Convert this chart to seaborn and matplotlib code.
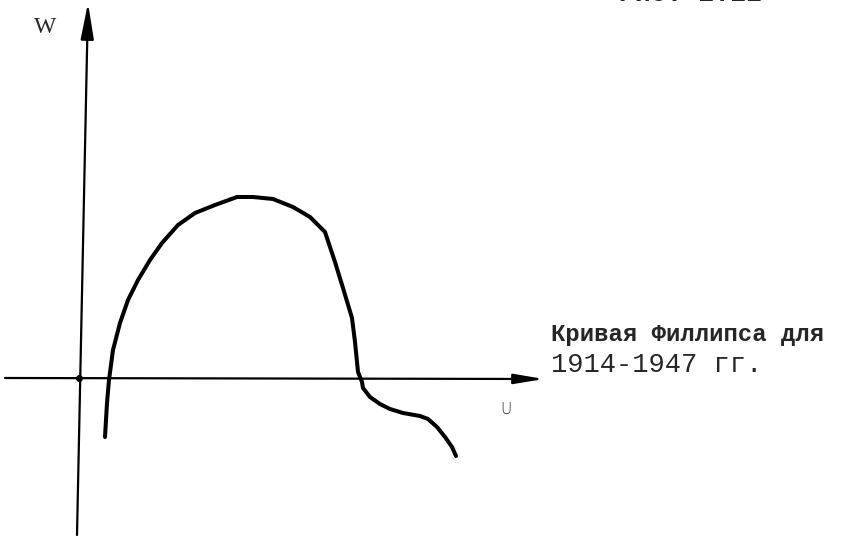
import matplotlib
matplotlib.use('Agg')
import matplotlib.pyplot as plt
import seaborn as sns
import pandas as pd

# кривая Филлипса (схема), координаты относительно начала осей
u_vals = [0.26, 0.28, 0.30, 0.34, 0.41, 0.49, 0.59, 0.71, 0.83, 0.99, 1.16, 1.36,
          1.58, 1.74, 1.94, 2.14, 2.31, 2.46, 2.56, 2.64, 2.73, 2.76, 2.79, 2.83,
          2.84, 2.91, 3.01, 3.11, 3.24, 3.41, 3.49, 3.58, 3.66, 3.73, 3.77]
w_vals = [-0.59, -0.25, -0.02, 0.28, 0.55, 0.78, 0.98, 1.18, 1.35, 1.53, 1.65, 1.73,
          1.81, 1.81, 1.79, 1.71, 1.61, 1.46, 1.16, 0.90, 0.60, 0.36, 0.06, -0.04,
          -0.10, -0.19, -0.26, -0.31, -0.35, -0.38, -0.41, -0.49, -0.59, -0.69, -0.78]

title_cut = 'Рис. 2.11'
label_w = 'W'
label_u = 'U'
caption = ['Кривая Филлипса для', '1914-1947 гг.']

df = pd.DataFrame({'u': u_vals, 'w': w_vals})

sns.set_theme(style='white')
fig = plt.figure(figsize=(8.5, 5.39), dpi=100)
ax = fig.add_axes([0, 0, 1, 1])
ax.set_xlim(-0.79, 7.71)
ax.set_ylim(-1.61, 3.78)
ax.axis('off')

# оси
ax.annotate('', xy=(0.09, 3.75), xytext=(-0.02, -1.57),
            arrowprops=dict(arrowstyle='-|>,head_length=1.1,head_width=0.2',
                            lw=1.6, color='black', mutation_scale=20, shrinkA=0, shrinkB=0))
ax.annotate('', xy=(4.65, -0.01), xytext=(-0.74, 0.0),
            arrowprops=dict(arrowstyle='-|>,head_length=0.9,head_width=0.15',
                            lw=1.6, color='black', mutation_scale=20, shrinkA=0, shrinkB=0))
ax.plot([0.0], [0.0], 'o', color='black', markersize=4)

sns.lineplot(data=df, x='u', y='w', sort=False, color='black', lw=2.9, ax=ax,
             solid_joinstyle='round', solid_capstyle='round')

ax.text(-0.34, 3.50, label_w, fontsize=17, family='Liberation Serif', ha='center', va='center')
ax.text(4.27, -0.32, label_u, fontsize=11, family='DejaVu Sans', fontweight='light',
        ha='center', va='center', color='#222222')
ax.text(4.72, 0.43, caption[0], fontsize=17.2, family='Liberation Mono', fontweight='bold',
        ha='left', va='center')
ax.text(4.72, 0.13, caption[1], fontsize=19.5, family='Liberation Mono',
        ha='left', va='center')
fig.text(0.728, 1 - 1 / 539, title_cut, fontsize=19, family='Liberation Mono', fontweight='bold',
         ha='left', va='baseline')

fig.savefig('out.png', dpi=100)
